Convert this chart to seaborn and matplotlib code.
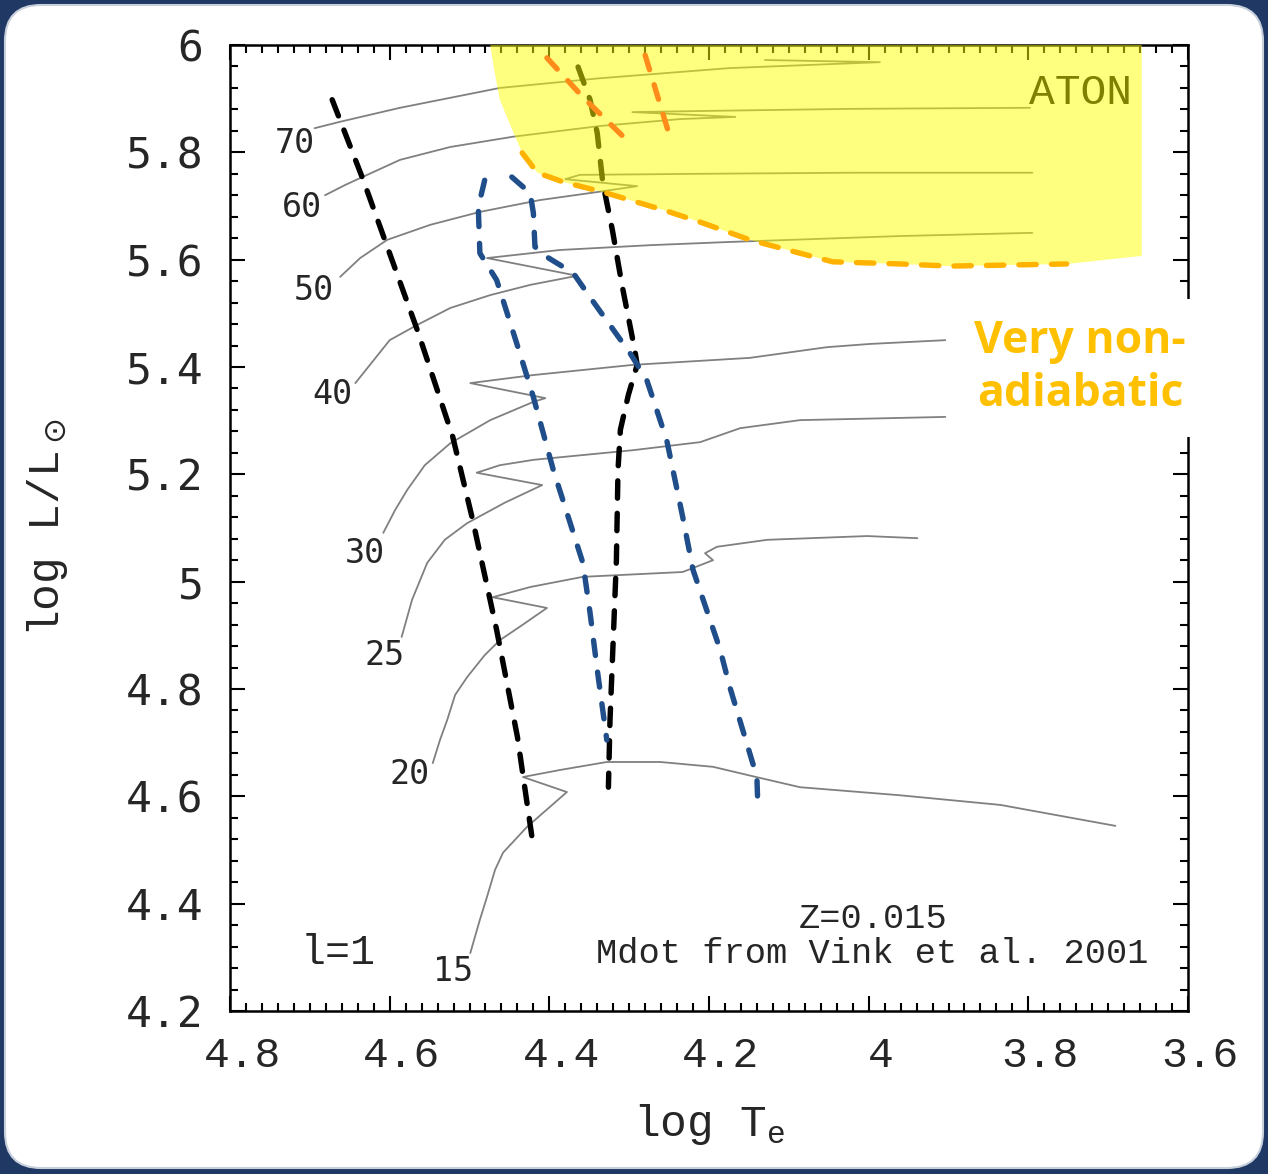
import matplotlib
matplotlib.use("Agg")
import matplotlib.pyplot as plt
import seaborn as sns
import pandas as pd
from matplotlib.patches import FancyBboxPatch
from matplotlib.transforms import IdentityTransform, ScaledTranslation
from matplotlib.ticker import MultipleLocator, FuncFormatter

# evolutionary tracks (log Te, log L)
masses = ["70", "60", "50", "40", "30", "25", "20", "15"]
te_70 = [4.694, 4.662, 4.587, 4.462, 4.337, 4.174, 3.986, 4.130]
l_70 = [5.845, 5.857, 5.883, 5.920, 5.938, 5.957, 5.968, 5.972]
te_60 = [4.681, 4.656, 4.637, 4.587, 4.524, 4.446, 4.337, 4.236, 4.167, 4.296, 4.211, 4.023, 3.798]
l_60 = [5.720, 5.739, 5.752, 5.786, 5.810, 5.829, 5.849, 5.862, 5.866, 5.875, 5.877, 5.881, 5.883]
te_50 = [4.662, 4.637, 4.603, 4.549, 4.487, 4.412, 4.340, 4.290, 4.380, 4.362, 4.211, 4.023, 3.795]
l_50 = [5.568, 5.603, 5.637, 5.665, 5.689, 5.711, 5.726, 5.737, 5.750, 5.758, 5.760, 5.762, 5.762]
te_40 = [4.643, 4.622, 4.600, 4.566, 4.524, 4.474, 4.424, 4.365, 4.478, 4.387, 4.274, 4.174, 3.961, 3.795]
l_40 = [5.370, 5.409, 5.450, 5.478, 5.510, 5.534, 5.553, 5.570, 5.603, 5.618, 5.627, 5.633, 5.644, 5.650]
te_30 = [4.608, 4.593, 4.578, 4.556, 4.524, 4.474, 4.420, 4.405, 4.499, 4.420, 4.295, 4.149, 4.052, 3.998, 3.904]
l_30 = [5.091, 5.134, 5.171, 5.217, 5.258, 5.301, 5.335, 5.342, 5.370, 5.385, 5.404, 5.417, 5.437, 5.443, 5.450]
te_25 = [4.585, 4.572, 4.553, 4.531, 4.503, 4.456, 4.409, 4.491, 4.462, 4.420, 4.295, 4.211, 4.161, 4.086, 3.904]
l_25 = [4.897, 4.966, 5.035, 5.078, 5.109, 5.147, 5.180, 5.203, 5.217, 5.227, 5.245, 5.260, 5.286, 5.301, 5.307]
te_20 = [4.546, 4.537, 4.528, 4.518, 4.503, 4.481, 4.462, 4.437, 4.403, 4.471, 4.424, 4.358, 4.233,
         4.195, 4.205, 4.190, 4.127, 4.002, 3.939]
l_20 = [4.662, 4.705, 4.742, 4.789, 4.822, 4.863, 4.891, 4.916, 4.951, 4.971, 4.990, 5.009, 5.018,
        5.040, 5.053, 5.065, 5.078, 5.085, 5.081]
te_15 = [4.499, 4.487, 4.478, 4.468, 4.458, 4.428, 4.378, 4.433, 4.387, 4.328, 4.261, 4.195, 4.141,
         4.086, 3.961, 3.835, 3.691]
l_15 = [4.308, 4.370, 4.413, 4.463, 4.495, 4.543, 4.608, 4.636, 4.649, 4.664, 4.664, 4.655, 4.636,
        4.617, 4.602, 4.584, 4.545]
label_te = [4.719, 4.710, 4.695, 4.672, 4.631, 4.606, 4.575, 4.521]
label_l = [5.817, 5.698, 5.542, 5.348, 5.053, 4.863, 4.640, 4.273]

# instability strip edges
black1_te = [4.672, 4.633, 4.603, 4.564, 4.521, 4.496, 4.466, 4.440, 4.420]
black1_l = [5.898, 5.748, 5.624, 5.463, 5.270, 5.115, 4.910, 4.711, 4.506]
black2_te = [4.364, 4.349, 4.340, 4.333, 4.321, 4.309, 4.293, 4.290, 4.301, 4.311, 4.314, 4.316,
             4.320, 4.324, 4.326]
black2_l = [5.959, 5.898, 5.836, 5.743, 5.655, 5.553, 5.432, 5.404, 5.348, 5.283, 5.208, 5.040,
            4.891, 4.742, 4.617]
blue1_te = [4.481, 4.489, 4.487, 4.466, 4.437, 4.420, 4.395, 4.358, 4.349, 4.340, 4.328]
blue1_l = [5.748, 5.698, 5.612, 5.562, 5.426, 5.344, 5.208, 5.035, 4.942, 4.836, 4.705]
blue2_te = [4.447, 4.424, 4.420, 4.418, 4.403, 4.370, 4.349, 4.299, 4.278, 4.253, 4.233, 4.220,
            4.186, 4.174, 4.140, 4.139]
blue2_l = [5.754, 5.724, 5.687, 5.624, 5.605, 5.575, 5.530, 5.426, 5.376, 5.264, 5.121, 5.022,
           4.873, 4.804, 4.636, 4.590]
orange1_te = [4.403, 4.358, 4.299]
orange1_l = [5.976, 5.903, 5.817]
orange2_te = [4.280, 4.249]
orange2_l = [5.981, 5.829]

# ATON region
aton_edge_te = [4.474, 4.469, 4.462, 4.449]
aton_edge_l = [6.0, 5.953, 5.898, 5.851]
aton_bound_te = [4.434, 4.415, 4.383, 4.333, 4.258, 4.211, 4.149, 4.086, 4.045, 3.961, 3.898, 3.752]
aton_bound_l = [5.799, 5.762, 5.745, 5.726, 5.693, 5.670, 5.637, 5.612, 5.596, 5.592, 5.588, 5.592]
aton_right_te = [3.658, 3.658]
aton_right_l = [5.607, 6.0]

W, H = 1268, 1174
fig = plt.figure(figsize=(W / 100, H / 100), dpi=100)
sns.set_style("ticks")
fig.patch.set_facecolor("#1F3864")
fig.add_artist(FancyBboxPatch((5, 6), 1258, 1163, boxstyle="round,pad=0,rounding_size=36",
                              transform=IdentityTransform(), facecolor="white",
                              edgecolor="#c8d0dc", lw=1.5, zorder=0))

ax = fig.add_axes([230 / W, 1 - 1011 / H, 958 / W, 966 / H])
ax.set_facecolor("white")

tracks = pd.concat([
    pd.DataFrame({"logTe": te, "logL": l, "mass": m})
    for m, te, l in zip(masses, [te_70, te_60, te_50, te_40, te_30, te_25, te_20, te_15],
                        [l_70, l_60, l_50, l_40, l_30, l_25, l_20, l_15])
])
sns.lineplot(data=tracks, x="logTe", y="logL", units="mass", estimator=None, sort=False,
             color="#808080", lw=1.3, ax=ax, legend=False, zorder=2)

def dashed(te, l, color, dash, z, lw=3.9):
    sns.lineplot(x=te, y=l, sort=False, estimator=None, color=color, lw=lw, ax=ax, zorder=z)
    ax.lines[-1].set_dashes(dash)
    ax.lines[-1].set_dash_capstyle("round")

dashed(black1_te, black1_l, "black", [3.2, 2.8], 2.5)
dashed(black2_te, black2_l, "black", [3.2, 2.8], 2.5)
dashed(blue1_te, blue1_l, "#1F4E8A", [2.8, 3.1], 2.5)
dashed(blue2_te, blue2_l, "#1F4E8A", [2.8, 3.1], 2.5)

ax.text(3.735, 5.911, "ATON", ha="center", va="center", fontsize=31,
        family="Liberation Mono", color="black", zorder=2.8)

poly_te = aton_edge_te + aton_bound_te + aton_right_te
poly_l = aton_edge_l + aton_bound_l + aton_right_l
ax.fill(poly_te, poly_l, color="#FFFF00", alpha=0.5, lw=0, zorder=3)

dashed(aton_bound_te, aton_bound_l, "#FFB300", [3.2, 2.8], 4)
dashed(orange1_te, orange1_l, "#FF8C1A", [2.8, 2.9], 4)
dashed(orange2_te, orange2_l, "#FF8C1A", [2.8, 2.9], 4)

for m, x, y in zip(masses, label_te, label_l):
    ax.text(x, y, m, ha="center", va="center", fontsize=24, family="DejaVu Sans Mono", zorder=5)

ax.text(4.665, 4.308, "l=1", ha="center", va="center", fontsize=30, family="Liberation Mono")
ax.text(3.995, 4.373, "Z=0.015", ha="center", va="center", fontsize=25.5, family="Liberation Mono")
ax.text(3.995, 4.308, "Mdot from Vink et al. 2001", ha="center", va="center", fontsize=25.5,
        family="Liberation Mono")
ax.text(3.735, 5.398, "Very non-\nadiabatic", ha="center", va="center", fontsize=32,
        family="Open Sans", weight="bold", color="#FFC000", linespacing=1.25, zorder=6,
        clip_on=False, bbox=dict(boxstyle="square,pad=0.45", facecolor="white", edgecolor="none"))

ax.set_xlim(4.8, 3.6)
ax.set_ylim(4.2, 6.0)
ax.xaxis.set_major_locator(MultipleLocator(0.2))
ax.xaxis.set_minor_locator(MultipleLocator(0.02))
ax.yaxis.set_major_locator(MultipleLocator(0.2))
ax.yaxis.set_minor_locator(MultipleLocator(0.04))
fmt = FuncFormatter(lambda v, p: "%g" % round(v, 2))
ax.xaxis.set_major_formatter(fmt)
ax.yaxis.set_major_formatter(fmt)
ax.tick_params(which="both", direction="in", top=True, right=True, width=1.5, color="black")
ax.tick_params(which="major", length=11)
ax.tick_params(which="minor", length=5.5)
ax.tick_params(axis="x", which="major", pad=18, labelsize=31)
ax.tick_params(axis="y", which="major", pad=19, labelsize=31)
shift = ScaledTranslation(0.12, 0, fig.dpi_scale_trans)
for lab in ax.get_xticklabels():
    lab.set_family("Liberation Mono")
    lab.set_transform(lab.get_transform() + shift)
for lab in ax.get_yticklabels():
    lab.set_family("DejaVu Sans Mono")
for sp in ax.spines.values():
    sp.set_linewidth(1.8)
    sp.set_color("black")

ax.set_xlabel(r"log T$_\mathregular{e}$", fontsize=32, family="Liberation Mono", va="center")
ax.set_ylabel(r"log L/L$_\odot$", fontsize=32, family="Liberation Mono", va="center")
ax.xaxis.set_label_coords(0.5, -0.117)
ax.yaxis.set_label_coords(-0.19, 0.5)

fig.savefig("out.png", dpi=100, facecolor=fig.get_facecolor())
